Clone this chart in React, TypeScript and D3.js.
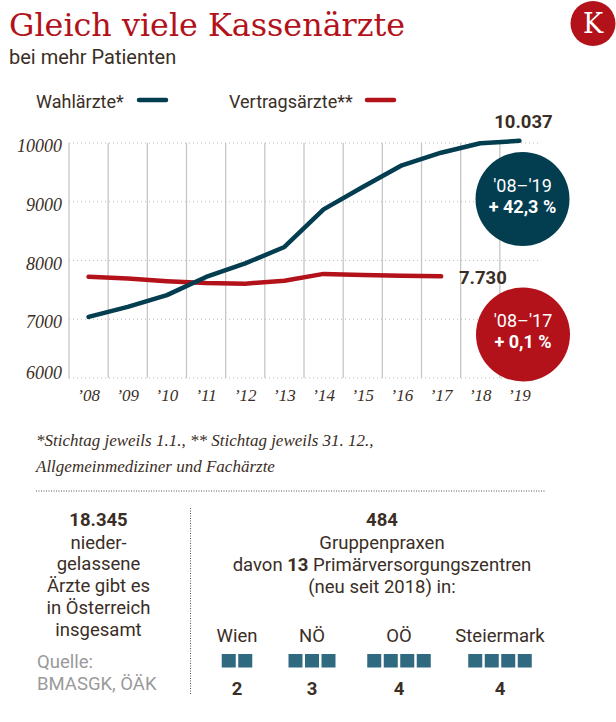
import React from "react";
import * as d3 from "d3";

const years = ["’08", "’09", "’10", "’11", "’12", "’13", "’14", "’15", "’16", "’17", "’18", "’19"];
const wahlaerzte = [7040, 7210, 7410, 7720, 7950, 8230, 8870, 9250, 9620, 9835, 9995, 10037];
const vertragsaerzte = [7722, 7692, 7648, 7618, 7606, 7655, 7772, 7752, 7742, 7730];
const yTicks = [6000, 7000, 8000, 9000, 10000];

const regions = ["Wien", "NÖ", "OÖ", "Steiermark"];
const pvzCounts = [2, 3, 4, 4];
const leftLines = ["nieder-", "gelassene", "Ärzte gibt es", "in Österreich", "insgesamt"];

const BLUE = "#033d50";
const RED = "#b3121a";
const TEXT = "#3a2e26";
const SQ = "#306a80";
const GRID = "#c6c6c6";

export default function App() {
  const W = 616, H = 722;
  const x = d3.scaleBand<string>().domain(years).range([69, 539]);
  const y = d3.scaleLinear().domain([6000, 10000]).range([378, 143]);
  const cx = (i: number) => (x(years[i]) as number) + x.bandwidth() / 2;

  const line = d3.line<number>().x((_, i) => cx(i)).y((d) => y(d)).curve(d3.curveLinear);

  const sans = "Roboto, 'Noto Sans', sans-serif";
  const serifIt = "'Liberation Serif', serif";

  const regionCenters = [237, 312, 399, 500];
  const sqSize = 14, sqGap = 2.5;

  return (
    <svg width={W} height={H} style={{ position: "absolute", left: 0, top: 0, background: "#fff" }}>
      {/* Title */}
      <text x={9} y={36} fontFamily="'DejaVu Serif', serif" fontSize={31.8} fill={RED}>Gleich viele Kassenärzte</text>
      <text x={9} y={64} fontFamily={sans} fontSize={20} fill={TEXT}>bei mehr Patienten</text>
      <circle cx={593} cy={23.5} r={22.5} fill={RED} />
      <text x={593} y={33} textAnchor="middle" fontFamily="'DejaVu Serif', serif" fontSize={27} fill="#fff">K</text>

      {/* Legend */}
      <text x={36} y={108} fontFamily={sans} fontSize={18} fill={TEXT}>Wahlärzte*</text>
      <line x1={139} x2={166} y1={100} y2={100} stroke={BLUE} strokeWidth={4.5} strokeLinecap="round" />
      <text x={229} y={108} fontFamily={sans} fontSize={18} fill={TEXT}>Vertragsärzte**</text>
      <line x1={367} x2={394} y1={100} y2={100} stroke={RED} strokeWidth={4.5} strokeLinecap="round" />

      {/* Grid */}
      {years.map((yr) => (
        <line key={yr} x1={x(yr) as number} x2={x(yr) as number} y1={y(10000)} y2={y(6000)} stroke={GRID} strokeWidth={1.3} />
      ))}
      {yTicks.map((t) => (
        <line key={t} x1={69} x2={539} y1={y(t)} y2={y(t)} stroke="#bdbdbd" strokeWidth={1} strokeDasharray="1,3" />
      ))}
      {yTicks.map((t, i) => (
        <text key={t} x={62} y={y(t) + (i === 0 ? 1 : 9)} textAnchor="end" fontFamily={serifIt} fontStyle="italic" fontSize={18} fill={TEXT}>{t}</text>
      ))}
      {years.map((yr, i) => (
        <text key={yr} x={cx(i)} y={401} textAnchor="middle" fontFamily={serifIt} fontStyle="italic" fontSize={17} fill={TEXT}>{yr}</text>
      ))}

      {/* Lines */}
      <path d={line(vertragsaerzte) as string} fill="none" stroke={RED} strokeWidth={4.5} strokeLinecap="round" strokeLinejoin="round" />
      <path d={line(wahlaerzte) as string} fill="none" stroke={BLUE} strokeWidth={4.5} strokeLinecap="round" strokeLinejoin="round" />

      {/* Value labels */}
      <text x={cx(11) + 4} y={128} textAnchor="middle" fontFamily={sans} fontWeight={700} fontSize={18.5} fill={TEXT}>10.037</text>
      <text x={459} y={284} fontFamily={sans} fontWeight={700} fontSize={18.5} fill={TEXT}>7.730</text>

      {/* Circles */}
      <circle cx={522.5} cy={199} r={47} fill={BLUE} />
      <text x={522.5} y={192} textAnchor="middle" fontFamily={sans} fontSize={18} fill="#fff">'08–'19</text>
      <text x={522.5} y={213} textAnchor="middle" fontFamily={sans} fontWeight={700} fontSize={18} fill="#fff">+ 42,3 %</text>
      <circle cx={523} cy={334.5} r={47} fill={RED} />
      <text x={523} y={327} textAnchor="middle" fontFamily={sans} fontSize={18} fill="#fff">'08–'17</text>
      <text x={523} y={348} textAnchor="middle" fontFamily={sans} fontWeight={700} fontSize={18} fill="#fff">+ 0,1 %</text>

      {/* Footnote */}
      <text x={36} y={446} fontFamily={serifIt} fontStyle="italic" fontSize={17} fill={TEXT}>*Stichtag jeweils 1.1., ** Stichtag jeweils 31. 12.,</text>
      <text x={36} y={472} fontFamily={serifIt} fontStyle="italic" fontSize={17} fill={TEXT}>Allgemeinmediziner und Fachärzte</text>
      <line x1={36} x2={545} y1={491} y2={491} stroke="#555" strokeWidth={1} strokeDasharray="1,1.5" />

      {/* Left column */}
      <text x={98.5} y={526} textAnchor="middle" fontFamily={sans} fontWeight={700} fontSize={18.5} fill={TEXT}>18.345</text>
      {leftLines.map((l, i) => (
        <text key={l} x={98.5} y={548.5 + i * 21.8} textAnchor="middle" fontFamily={sans} fontSize={18.5} fill={TEXT}>{l}</text>
      ))}
      <text x={37} y={668} fontFamily={sans} fontSize={18.5} fill="#9a9a9a">Quelle:</text>
      <text x={37} y={690} fontFamily={sans} fontSize={18.5} fill="#9a9a9a">BMASGK, ÖÄK</text>
      <line x1={190.5} x2={190.5} y1={508} y2={694} stroke="#555" strokeWidth={1} strokeDasharray="1,1.5" />

      {/* Right column */}
      <text x={382} y={526} textAnchor="middle" fontFamily={sans} fontWeight={700} fontSize={18.5} fill={TEXT}>484</text>
      <text x={382} y={548.5} textAnchor="middle" fontFamily={sans} fontSize={18.5} fill={TEXT}>Gruppenpraxen</text>
      <text x={382} y={570.5} textAnchor="middle" fontFamily={sans} fontSize={18.5} fill={TEXT}>
        davon <tspan fontWeight={700}>13</tspan> Primärversorgungszentren
      </text>
      <text x={382} y={592.5} textAnchor="middle" fontFamily={sans} fontSize={18.5} fill={TEXT}>(neu seit 2018) in:</text>

      {regions.map((r, i) => {
        const c = regionCenters[i];
        const n = pvzCounts[i];
        const total = n * sqSize + (n - 1) * sqGap;
        return (
          <g key={r}>
            <text x={c} y={642} textAnchor="middle" fontFamily={sans} fontSize={18.5} fill={TEXT}>{r}</text>
            {d3.range(n).map((k) => (
              <rect key={k} x={c - total / 2 + k * (sqSize + sqGap)} y={654} width={sqSize} height={13.5} fill={SQ} />
            ))}
            <text x={c} y={695} textAnchor="middle" fontFamily={sans} fontWeight={700} fontSize={18.5} fill={TEXT}>{n}</text>
          </g>
        );
      })}
    </svg>
  );
}
